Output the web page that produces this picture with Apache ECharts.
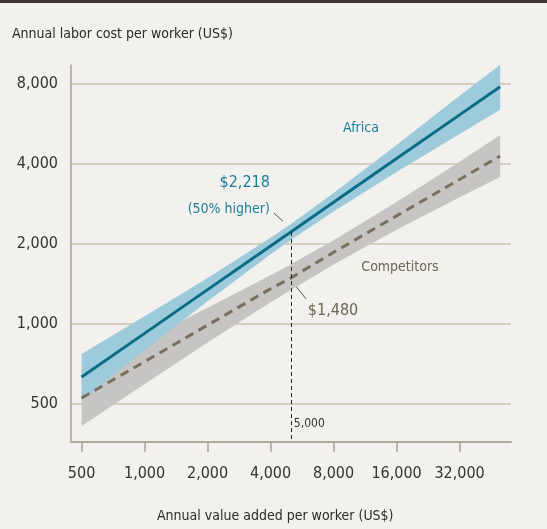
<!DOCTYPE html>
<html>
<head>
<meta charset="utf-8">
<script src="https://cdn.jsdelivr.net/npm/echarts@6/dist/echarts.min.js"></script>
<style>
html, body { margin: 0; padding: 0; background: #f2f1ed; }
#chart { width: 547px; height: 529px; }
</style>
</head>
<body>
<div id="chart"></div>
<script>
const xTicks = [500, 1000, 2000, 4000, 8000, 16000, 32000]
const yTicks = [500, 1000, 2000, 4000, 8000]
const valueAdded = [500, 1000, 2000, 4000, 5000, 8000, 16000, 32000, 50000]
const africa = [632, 922, 1347, 1967, 2218, 2872, 4193, 6122, 7814]
const africaHigh = [771, 1070, 1491, 2113, 2379, 3108, 4714, 7228, 9450]
const africaLow = [517, 796, 1217, 1831, 2071, 2653, 3729, 5186, 6402]
const competitors = [527, 722, 990, 1357, 1490, 1861, 2552, 3499, 4287]
const competitorsHigh = [671, 877, 1151, 1527, 1678, 2068, 2877, 4082, 5143]
const competitorsLow = [413, 595, 851, 1207, 1344, 1676, 2264, 2999, 3574]
const markerX = 5000
const africaAtMarker = 2218
const competitorsAtMarker = 1480

const FONT = "'DejaVu Sans Condensed', 'DejaVu Sans', sans-serif"
const BASE = 500
const lg = v => Math.log2(v / BASE)
const fmt = v => Math.round(BASE * Math.pow(2, v)).toLocaleString('en-US')
const X_MIN = -0.168
const X_MAX = 6.816
const Y_MIN = -0.475
const Y_MAX = 4.2375

function bandSeries (name, low, high, color) {
  return {
    name: name,
    type: 'custom',
    silent: true,
    data: [0],
    renderItem (params, api) {
      let pts = []
      valueAdded.forEach((x, i) => pts.push(api.coord([lg(x), lg(high[i])])))
      for (let i = valueAdded.length - 1; i >= 0; i--) {
        pts.push(api.coord([lg(valueAdded[i]), lg(low[i])]))
      }
      return { type: 'polygon', shape: { points: pts }, style: { fill: color } }
    }
  }
}

const chart = echarts.init(document.getElementById('chart'))
chart.setOption({
  backgroundColor: '#f2f1ed',
  animation: false,
  textStyle: { fontFamily: FONT },
  title: [{
    text: 'Annual labor cost per worker (US$)',
    left: 7,
    top: 22,
    textStyle: { fontFamily: FONT, fontSize: 14, fontWeight: 'normal', color: '#2a2a2a' }
  }, {
    text: 'Annual value added per worker (US$)',
    left: 152,
    top: 504,
    textStyle: { fontFamily: FONT, fontSize: 14, fontWeight: 'normal', color: '#2a2a2a' }
  }],
  grid: { left: 71, right: 36, top: 65, bottom: 87 },
  xAxis: {
    type: 'value',
    min: X_MIN,
    max: X_MAX,
    splitLine: { show: false },
    axisLine: { onZero: false, lineStyle: { color: '#b0aa9e', width: 2 } },
    axisTick: {
      customValues: xTicks.map(lg),
      length: 10,
      lineStyle: { color: '#a9a397', width: 1.5 }
    },
    axisLabel: {
      customValues: xTicks.map(lg),
      formatter: fmt,
      margin: 24,
      fontSize: 16,
      fontFamily: FONT,
      color: '#333'
    }
  },
  yAxis: {
    type: 'value',
    min: Y_MIN,
    max: Y_MAX,
    axisLine: { show: true, onZero: false, lineStyle: { color: '#a9a397', width: 1.5 } },
    axisTick: { show: false, customValues: yTicks.map(lg) },
    splitLine: { show: true, lineStyle: { color: '#d4cec2', width: 2 } },
    axisLabel: {
      customValues: yTicks.map(lg),
      formatter: fmt,
      margin: 13,
      fontSize: 16,
      fontFamily: FONT,
      color: '#333'
    }
  },
  series: [
    bandSeries('Competitors range', competitorsLow, competitorsHigh, '#c6c5c3'),
    bandSeries('Africa range', africaLow, africaHigh, '#9dcbdb'),
    {
      name: 'Competitors',
      type: 'line',
      showSymbol: false,
      silent: true,
      data: valueAdded.map((x, i) => [lg(x), lg(competitors[i])]),
      lineStyle: { color: '#7a6f5f', width: 3, type: [9, 6], cap: 'butt' }
    },
    {
      name: 'Africa',
      type: 'line',
      showSymbol: false,
      silent: true,
      data: valueAdded.map((x, i) => [lg(x), lg(africa[i])]),
      lineStyle: { color: '#0c6c86', width: 3 },
      markLine: {
        silent: true,
        symbol: 'none',
        label: { show: false },
        lineStyle: { color: '#222', width: 1, type: [4, 3] },
        data: [[
          { coord: [lg(markerX), lg(africaAtMarker)] },
          { coord: [lg(markerX), Y_MIN] }
        ]]
      }
    }
  ]
})

const pA = chart.convertToPixel({ gridIndex: 0 }, [lg(markerX), lg(africaAtMarker)])
const pC = chart.convertToPixel({ gridIndex: 0 }, [lg(markerX), lg(competitorsAtMarker)])
const pB = chart.convertToPixel({ gridIndex: 0 }, [lg(markerX), Y_MIN])

chart.setOption({
  graphic: [
    { type: 'rect', left: 0, top: 0, shape: { width: 547, height: 3 }, style: { fill: '#3e3630' } },
    {
      type: 'text', x: 361, y: 128,
      style: { text: 'Africa', fill: '#1b7f9c', font: '14px ' + FONT, align: 'center', verticalAlign: 'middle' }
    },
    {
      type: 'text', x: 400, y: 267,
      style: { text: 'Competitors', fill: '#6e6454', font: '14px ' + FONT, align: 'center', verticalAlign: 'middle' }
    },
    {
      type: 'text', x: pA[0] - 21, y: pA[1] - 49,
      style: { text: '$' + africaAtMarker.toLocaleString('en-US'), fill: '#1b7f9c', font: '16px ' + FONT, align: 'right', verticalAlign: 'middle' }
    },
    {
      type: 'text', x: pA[0] - 21, y: pA[1] - 23,
      style: { text: '(50% higher)', fill: '#1b7f9c', font: '14px ' + FONT, align: 'right', verticalAlign: 'middle' }
    },
    {
      type: 'line',
      shape: { x1: pA[0] - 17, y1: pA[1] - 19, x2: pA[0] - 8, y2: pA[1] - 11 },
      style: { stroke: '#555', lineWidth: 1 }
    },
    {
      type: 'text', x: pC[0] + 17, y: pC[1] + 32,
      style: { text: '$' + competitorsAtMarker.toLocaleString('en-US'), fill: '#6e6454', font: '16px ' + FONT, align: 'left', verticalAlign: 'middle' }
    },
    {
      type: 'line',
      shape: { x1: pC[0] + 3, y1: pC[1] + 5, x2: pC[0] + 15, y2: pC[1] + 20 },
      style: { stroke: '#555', lineWidth: 1 }
    },
    {
      type: 'text', x: pB[0] + 3, y: pB[1] - 18,
      style: { text: markerX.toLocaleString('en-US'), fill: '#333', font: '12px ' + FONT, align: 'left', verticalAlign: 'middle' }
    }
  ]
})
</script>
</body>
</html>
